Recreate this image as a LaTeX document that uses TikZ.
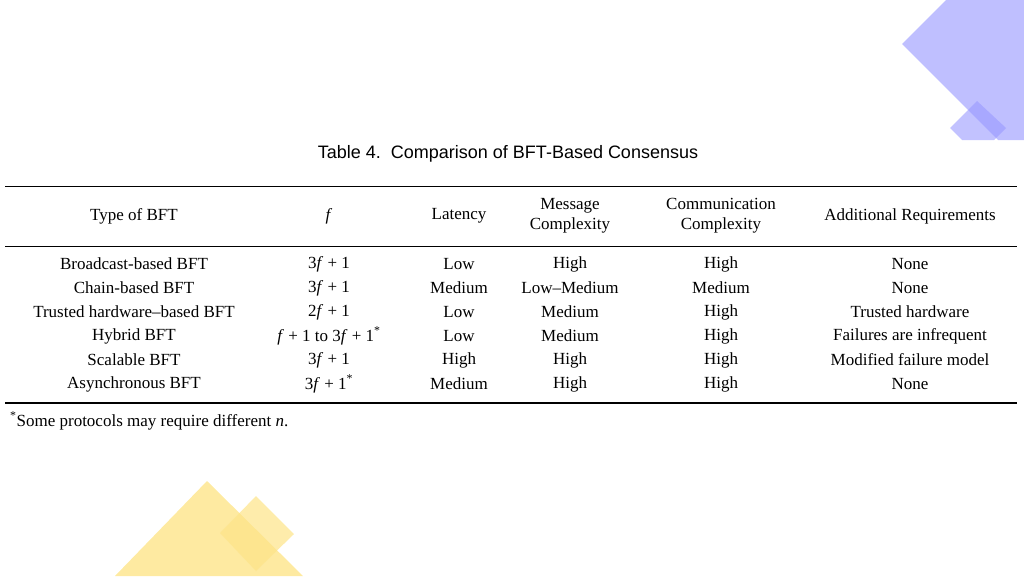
\documentclass[tikz,border=0pt]{standalone}
\usepackage{fontspec}
\setmainfont{Liberation Serif}
\newfontfamily\titlefont{Liberation Sans}
\newcommand{\ff}{\textit{f}}
\begin{document}
\begin{tikzpicture}[x=1pt,y=-1pt,
  cell/.style={anchor=center,inner sep=0pt,font=\fontsize{17}{20}\selectfont,align=center},
  rulex/.style={line width=0.9pt}]
\useasboundingbox (0,0) rectangle (1024,576);
% decorations
\fill[blue!40!cyan!10!white,fill=blue!25] (902,44) -- (946,0) -- (1024,0) -- (1024,140) -- (998,140) -- cycle;
\fill[blue!40,opacity=0.6] (950,128) -- (977,101) -- (1006,128) -- (994,140) -- (962,140) -- cycle;
\fill[yellow!60!orange!35] (115,576) -- (207,481) -- (303,576) -- cycle;
\fill[yellow!60!orange!45,opacity=0.7] (220,533) -- (256,496) -- (294,534) -- (256,571) -- cycle;
% title
\node[cell,font=\titlefont\fontsize{18}{20}\selectfont] (title) at (508,154) {Table 4.\ \ Comparison of BFT-Based Consensus};
% rules
\draw[rulex] (5,186) -- (1017,186);
\draw[line width=0.6pt] (5,246) -- (1017,246);
\draw[line width=1.6pt] (5,403) -- (1017,403);
% header
\node[cell] (h1) at (134,216) {Type of BFT};
\node[cell] (h2) at (329,216) {\ff};
\node[cell] (h3) at (459,216) {Latency};
\node[cell] (h4) at (570,216) {Message\\Complexity};
\node[cell] (h5) at (721,216) {Communication\\Complexity};
\node[cell] (h6) at (910,216) {Additional Requirements};
% rows
\foreach \y/\a/\b/\c/\d/\e/\g [count=\i] in {
 264/Broadcast-based BFT/3\ff\ +\ 1/Low/High/High/None,
 288/Chain-based BFT/3\ff\ +\ 1/Medium/Low–Medium/Medium/None,
 312/Trusted hardware–based BFT/2\ff\ +\ 1/Low/Medium/High/Trusted hardware,
 336/Hybrid BFT/\ff\ +\ 1 to 3\ff\ +\ 1\textsuperscript{*}/Low/Medium/High/Failures are infrequent,
 360/Scalable BFT/3\ff\ +\ 1/High/High/High/Modified failure model,
 384/Asynchronous BFT/3\ff\ +\ 1\textsuperscript{*}/Medium/High/High/None}{
 \node[cell] (r\i a) at (134,\y) {\a};
 \node[cell] (r\i b) at (329,\y) {\b};
 \node[cell] (r\i c) at (459,\y) {\c};
 \node[cell] (r\i d) at (570,\y) {\d};
 \node[cell] (r\i e) at (721,\y) {\e};
 \node[cell] (r\i f) at (910,\y) {\g};
}
\node[cell,anchor=west] (foot) at (10,421) {\textsuperscript{*}Some protocols may require different \textit{n}.};
\end{tikzpicture}
\end{document}
